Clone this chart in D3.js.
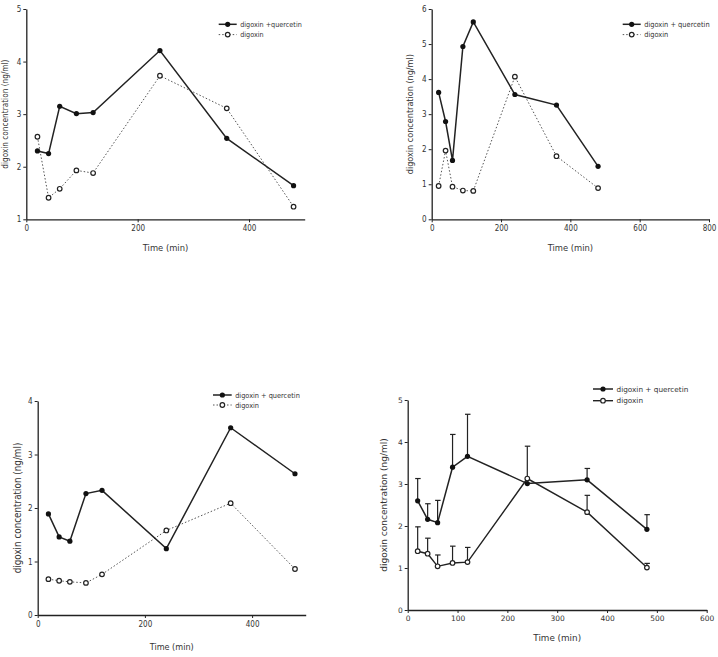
<!DOCTYPE html>
<html><head><meta charset="utf-8">
<script src="https://cdn.jsdelivr.net/npm/d3@7"></script>
<style>
body{margin:0;background:#fff;}
svg{display:block;}
</style></head>
<body><svg id="c" width="718" height="657"></svg>
<script>
const times = [20, 40, 60, 90, 120, 240, 360, 480];
const namesP1 = ["digoxin +quercetin", "digoxin"];
const namesOther = ["digoxin + quercetin", "digoxin"];
const p1Combo = [2.30, 2.25, 3.15, 3.01, 3.03, 4.21, 2.54, 1.64];
const p1Dig   = [2.57, 1.41, 1.58, 1.93, 1.88, 3.73, 3.11, 1.24];
const p2Combo = [3.62, 2.79, 1.68, 4.93, 5.63, 3.56, 3.26, 1.51];
const p2Dig   = [0.95, 1.96, 0.93, 0.82, 0.81, 4.07, 1.80, 0.89];
const p3Combo = [1.89, 1.46, 1.38, 2.27, 2.33, 1.24, 3.50, 2.64];
const p3Dig   = [0.67, 0.64, 0.62, 0.60, 0.76, 1.58, 2.09, 0.86];
const p4Combo = [2.60, 2.16, 2.08, 3.40, 3.66, 3.01, 3.10, 1.92];
const p4ComboErr = [0.53, 0.37, 0.53, 0.78, 1.00, 0.89, 0.27, 0.35];
const p4Dig   = [1.40, 1.34, 1.04, 1.12, 1.14, 3.13, 2.33, 1.01];
const p4DigErr = [0.58, 0.37, 0.27, 0.40, 0.35, 0.00, 0.40, 0.10];
const p1XTicks = [0, 200, 400], p1YTicks = [1, 2, 3, 4, 5];
const p2XTicks = [0, 200, 400, 600, 800], p2YTicks = [0, 1, 2, 3, 4, 5, 6];
const p3XTicks = [0, 200, 400], p3YTicks = [0, 1, 2, 3, 4];
const p4XTicks = [0, 100, 200, 300, 400, 500, 600], p4YTicks = [0, 1, 2, 3, 4, 5];
const xTitle = "Time (min)", yTitle = "digoxin concentration (ng/ml)";

const svg = d3.select("#c");
const ink = "#222";
const condensed = "'DejaVu Sans Condensed','DejaVu Sans',sans-serif";

const panels = [
  {combo: p1Combo, dig: p1Dig, names: namesP1, xd: [0, 500], yd: [1, 5], xt: p1XTicks, yt: p1YTicks,
   x0: 26.3, x1: 304.7, y0: 219.3, y1: 9, font: condensed,
   tickFs: 8, titleFs: 8.2, xTitleFs: 9.3, legFs: 7.2, dotted: true, yTitleX: 5, xTitleY: 251,
   leg: {x0: 218.7, x1: 236.7, y: 24.3, dy: 10.3}},
  {combo: p2Combo, dig: p2Dig, names: namesOther, xd: [0, 800], yd: [0, 6], xt: p2XTicks, yt: p2YTicks,
   x0: 431.7, x1: 709, y0: 219.3, y1: 9, font: condensed,
   tickFs: 8, titleFs: 9, xTitleFs: 9.3, legFs: 7.4, dotted: true, yTitleX: 410, xTitleY: 251,
   leg: {x0: 622.7, x1: 640.7, y: 24.3, dy: 10.3}},
  {combo: p3Combo, dig: p3Dig, names: namesOther, xd: [0, 500], yd: [0, 4], xt: p3XTicks, yt: p3YTicks,
   x0: 37.7, x1: 305.7, y0: 615, y1: 401, font: condensed,
   tickFs: 8, titleFs: 9.8, xTitleFs: 9, legFs: 7.3, dotted: true, yTitleX: 17, xTitleY: 650,
   leg: {x0: 213, x1: 231.7, y: 395, dy: 10}},
  {combo: p4Combo, dig: p4Dig, names: namesOther, comboErr: p4ComboErr, digErr: p4DigErr, xd: [0, 600], yd: [0, 5], xt: p4XTicks, yt: p4YTicks,
   x0: 407.7, x1: 706.7, y0: 610, y1: 400, font: "'DejaVu Sans',sans-serif",
   tickFs: 7.5, titleFs: 9, xTitleFs: 8.8, legFs: 7.3, dotted: false, yTitleX: 383.5, xTitleY: 641,
   leg: {x0: 593, x1: 613, y: 389, dy: 11.7}}
];

panels.forEach(p => {
  const x = d3.scaleLinear().domain(p.xd).range([p.x0, p.x1]);
  const y = d3.scaleLinear().domain(p.yd).range([p.y0, p.y1]);
  const g = svg.append("g").style("font-family", p.font);

  const xa = g.append("g").attr("transform", `translate(0,${p.y0})`)
    .call(d3.axisBottom(x).tickValues(p.xt).tickFormat(d3.format("d")).tickSize(3).tickPadding(3).tickSizeOuter(0));
  const ya = g.append("g").attr("transform", `translate(${p.x0},0)`)
    .call(d3.axisLeft(y).tickValues(p.yt).tickFormat(d3.format("d")).tickSize(3).tickPadding(2).tickSizeOuter(0));
  [xa, ya].forEach(a => {
    a.select(".domain").attr("stroke", ink).attr("stroke-width", 1.3);
    a.selectAll(".tick line").attr("stroke", ink).attr("stroke-width", 1);
    a.selectAll("text").attr("fill", "#333").style("font-size", p.tickFs + "px").style("font-family", p.font);
  });

  g.append("text").attr("x", (p.x0 + p.x1) / 2).attr("y", p.xTitleY)
    .attr("text-anchor", "middle").attr("fill", "#333").style("font-size", p.xTitleFs + "px").text(xTitle);
  g.append("text").attr("transform", `translate(${p.yTitleX},${(p.y0 + p.y1) / 2}) rotate(-90)`)
    .attr("text-anchor", "middle").attr("dominant-baseline", "central").attr("fill", "#333")
    .style("font-size", p.titleFs + "px").text(yTitle);

  const pts = (vals) => times.map((t, i) => ({t, v: vals[i], i}));
  const line = d3.line().x(d => x(d.t)).y(d => y(d.v));

  if (p.comboErr) {
    [[p.combo, p.comboErr], [p.dig, p.digErr]].forEach(([vals, err]) => {
      const eb = g.append("g");
      pts(vals).filter(d => err[d.i] > 0).forEach(d => {
        eb.append("line").attr("x1", x(d.t)).attr("x2", x(d.t))
          .attr("y1", y(d.v)).attr("y2", y(d.v + err[d.i])).attr("stroke", ink).attr("stroke-width", 1.2);
        eb.append("line").attr("x1", x(d.t) - 2.5).attr("x2", x(d.t) + 3)
          .attr("y1", y(d.v + err[d.i])).attr("y2", y(d.v + err[d.i])).attr("stroke", ink).attr("stroke-width", 1.2);
      });
    });
  }

  g.append("path").datum(pts(p.dig)).attr("d", line).attr("fill", "none")
    .attr("stroke", p.dotted ? "#555" : ink).attr("stroke-width", p.dotted ? 1 : 1.4)
    .attr("stroke-dasharray", p.dotted ? "1.5,2" : null);
  g.append("path").datum(pts(p.combo)).attr("d", line).attr("fill", "none")
    .attr("stroke", ink).attr("stroke-width", 1.5);

  g.selectAll(".dc").data(pts(p.combo)).join("circle")
    .attr("cx", d => x(d.t)).attr("cy", d => y(d.v)).attr("r", 2.6).attr("fill", "#111");
  g.selectAll(".do").data(pts(p.dig)).join("circle")
    .attr("cx", d => x(d.t)).attr("cy", d => y(d.v)).attr("r", 2.3)
    .attr("fill", "#fff").attr("stroke", ink).attr("stroke-width", 1.2);

  const L = p.leg;
  const lg = g.append("g");
  lg.append("line").attr("x1", L.x0).attr("x2", L.x1).attr("y1", L.y).attr("y2", L.y).attr("stroke", ink).attr("stroke-width", 1.5);
  lg.append("circle").attr("cx", (L.x0 + L.x1) / 2).attr("cy", L.y).attr("r", 2.6).attr("fill", "#111");
  lg.append("line").attr("x1", L.x0).attr("x2", L.x1).attr("y1", L.y + L.dy).attr("y2", L.y + L.dy)
    .attr("stroke", p.dotted ? "#555" : ink).attr("stroke-width", p.dotted ? 1 : 1.4)
    .attr("stroke-dasharray", p.dotted ? "1.5,2" : null);
  lg.append("circle").attr("cx", (L.x0 + L.x1) / 2).attr("cy", L.y + L.dy).attr("r", 2.3)
    .attr("fill", "#fff").attr("stroke", ink).attr("stroke-width", 1.2);
  p.names.forEach((n, i) => {
    lg.append("text").attr("x", L.x1 + 3.5).attr("y", L.y + i * L.dy).attr("dy", "0.35em")
      .attr("fill", "#333").style("font-size", p.legFs + "px").text(n);
  });
});
</script></body></html>
